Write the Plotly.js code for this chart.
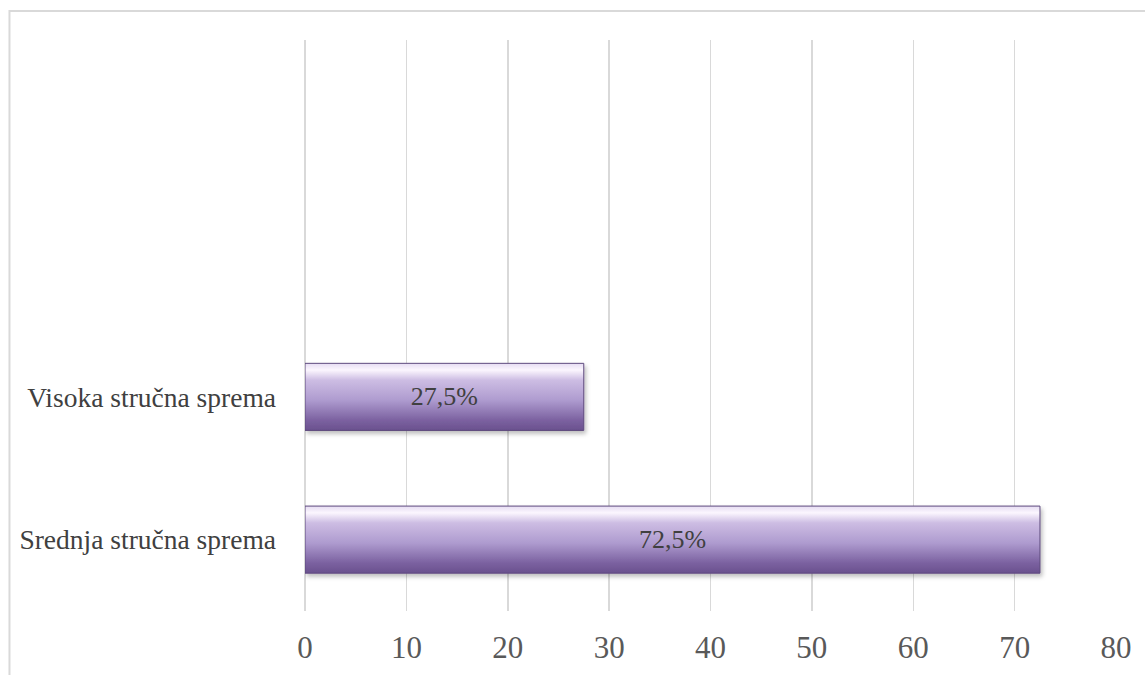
<!DOCTYPE html>
<html>
<head>
<meta charset="utf-8">
<script src="https://cdn.plot.ly/plotly-3.0.1.min.js"></script>
<style>html,body{margin:0;padding:0;background:#fff;}#chart{width:1145px;height:675px;}</style>
</head>
<body>
<div id="chart"></div>
<script>
const categories = ["Srednja stručna sprema", "Visoka stručna sprema"];
const values = [72.5, 27.5];
const barLabels = values.map(v => v.toFixed(1).replace('.', ',') + '%');
const xTicks = [0, 10, 20, 30, 40, 50, 60, 70, 80];

const serif = '"Liberation Serif", "Times New Roman", serif';

const trace = {
  type: 'bar',
  orientation: 'h',
  x: values,
  y: [0, 1],
  text: barLabels,
  textposition: 'inside',
  insidetextanchor: 'middle',
  textfont: {family: serif, size: 26, color: '#404040'},
  marker: {color: '#a58fc8', line: {color: '#5e4a7e', width: 1}},
  width: 0.47,
  hoverinfo: 'skip'
};

const layout = {
  width: 1145,
  height: 675,
  margin: {l: 305, r: 29, t: 40, b: 64},
  paper_bgcolor: '#ffffff',
  plot_bgcolor: '#ffffff',
  showlegend: false,
  xaxis: {
    range: [0, 80],
    tickvals: xTicks,
    ticktext: xTicks.map(String),
    showgrid: true,
    gridcolor: '#d9d9d9',
    gridwidth: 1.5,
    zeroline: true,
    zerolinecolor: '#d9d9d9',
    zerolinewidth: 1.5,
    showline: false,
    ticks: '',
    ticklabelstandoff: 15,
    tickfont: {family: serif, size: 31, color: '#595959'}
  },
  yaxis: {
    range: [-0.5, 3.5],
    tickvals: [0, 1],
    ticktext: categories,
    showgrid: false,
    zeroline: false,
    showline: false,
    ticks: '',
    ticklabelstandoff: 28,
    tickfont: {family: serif, size: 27.5, color: '#404040'}
  },
  shapes: [{
    type: 'path',
    xref: 'paper', yref: 'paper',
    path: 'M -0.3644,-0.12 L -0.3644,1.0508 L 1.05,1.0508',
    line: {color: '#d9d9d9', width: 2}
  }]
};

Plotly.newPlot('chart', [trace], layout, {staticPlot: true}).then(gd => {
  const svg = gd.querySelector('svg.main-svg');
  const ns = 'http://www.w3.org/2000/svg';
  let defs = svg.querySelector('defs');
  const grad = document.createElementNS(ns, 'linearGradient');
  grad.setAttribute('id', 'barGrad');
  grad.setAttribute('x1', '0'); grad.setAttribute('y1', '0');
  grad.setAttribute('x2', '0'); grad.setAttribute('y2', '1');
  [['0', '#e6dcf2'], ['0.1', '#fbf6fe'], ['0.25', '#cdbde3'], ['0.55', '#ae9bcf'], ['0.85', '#7b61a0'], ['1', '#6a518e']].forEach(([o, c]) => {
    const s = document.createElementNS(ns, 'stop');
    s.setAttribute('offset', o); s.setAttribute('stop-color', c);
    grad.appendChild(s);
  });
  defs.appendChild(grad);
  const filt = document.createElementNS(ns, 'filter');
  filt.setAttribute('id', 'barShadow');
  filt.setAttribute('x', '-5%'); filt.setAttribute('y', '-20%');
  filt.setAttribute('width', '110%'); filt.setAttribute('height', '150%');
  filt.innerHTML = '<feDropShadow dx="2" dy="3" stdDeviation="2" flood-color="#000" flood-opacity="0.25"/>';
  defs.appendChild(filt);
  gd.querySelectorAll('.barlayer .point path').forEach(p => {
    p.style.fill = 'url(#barGrad)';
    p.style.fillOpacity = 1;
    p.setAttribute('filter', 'url(#barShadow)');
  });
});
</script>
</body>
</html>
